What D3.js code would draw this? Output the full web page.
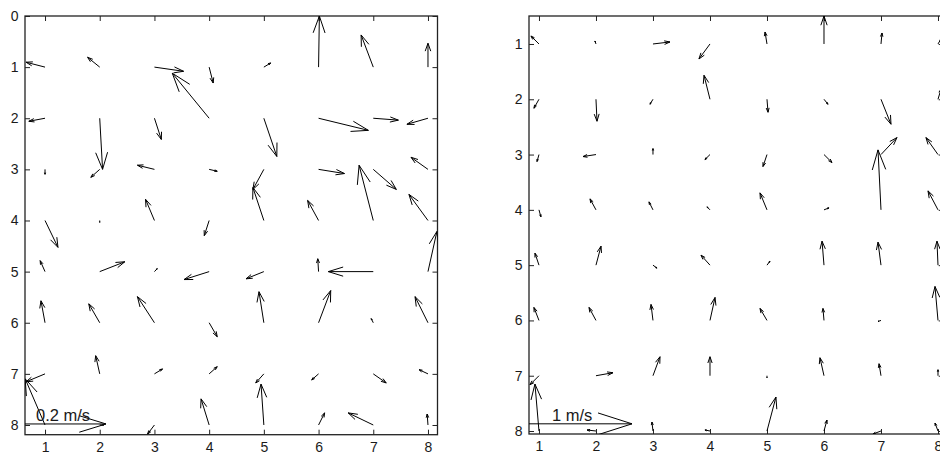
<!DOCTYPE html>
<html>
<head>
<meta charset="utf-8">
<script src="https://cdn.jsdelivr.net/npm/d3@7"></script>
<style>
  html, body { margin: 0; padding: 0; background: #fff; }
  svg { display: block; }
  text { font-family: "Liberation Sans", Arial, sans-serif; fill: #1a1a1a; }
</style>
</head>
<body>
<svg id="chart" width="940" height="456"></svg>
<script>
// Grid of measurement points (columns x = 1..8, rows y = 1..8)
const gridX = [1, 2, 3, 4, 5, 6, 7, 8];
const gridY = [1, 2, 3, 4, 5, 6, 7, 8];

// Left field: eastward (u) and northward (v) velocity, m/s, one row per y
const leftU = [
  [-0.047, -0.030,  0.072,  0.010,  0.017,  0.002, -0.030,  0.000],
  [-0.040,  0.007,  0.017, -0.091,  0.032,  0.123,  0.062, -0.052],
  [ 0.000, -0.022, -0.042,  0.020, -0.027,  0.064,  0.057, -0.042],
  [ 0.032,  0.000, -0.022, -0.012, -0.027, -0.027, -0.035, -0.047],
  [-0.012,  0.062,  0.007, -0.062, -0.044, -0.002, -0.111,  0.022],
  [-0.010, -0.027, -0.042,  0.020, -0.012,  0.030, -0.005, -0.032],
  [-0.047, -0.010,  0.020,  0.020, -0.020, -0.017,  0.032, -0.022],
  [-0.049,  0.010, -0.017, -0.020, -0.007,  0.015, -0.062, -0.002]
];
const leftV = [
  [ 0.013,  0.026, -0.011, -0.042,  0.011,  0.135,  0.085,  0.063],
  [-0.008, -0.135, -0.056,  0.119, -0.101, -0.032, -0.005, -0.016],
  [-0.013, -0.021,  0.011, -0.005, -0.053, -0.011, -0.053,  0.032],
  [-0.071, -0.005,  0.056, -0.040,  0.087,  0.053,  0.146,  0.069],
  [ 0.029,  0.026,  0.008, -0.021, -0.019,  0.034,  0.000,  0.106],
  [ 0.058,  0.050,  0.069, -0.037,  0.082,  0.085,  0.011,  0.069],
  [-0.021,  0.048,  0.013,  0.019, -0.024, -0.016, -0.024,  0.011],
  [ 0.122,  0.000, -0.024,  0.069,  0.108,  0.032,  0.032,  0.029]
];

// Right field: u and v, m/s
const rightU = [
  [-0.078, -0.010,  0.165, -0.107, -0.019,  0.000,  0.010,  0.029],
  [-0.049,  0.010, -0.029, -0.058,  0.010,  0.039,  0.097,  0.029],
  [-0.019, -0.126,  0.000, -0.049, -0.039,  0.078,  0.155, -0.117],
  [ 0.019, -0.058, -0.039, -0.029, -0.068,  0.049, -0.029, -0.097],
  [-0.039,  0.049,  0.039, -0.087,  0.029, -0.019, -0.029, -0.010],
  [-0.049, -0.068, -0.019,  0.049, -0.068, -0.010, -0.029, -0.029],
  [-0.087,  0.165,  0.068,  0.000,  0.000, -0.039, -0.019,  0.000],
  [-0.039, -0.087, -0.010, -0.049,  0.087,  0.029, -0.078, -0.029]
];
const rightV = [
  [ 0.08,  0.03,  0.02, -0.15,  0.12,  0.28,  0.11,  0.05],
  [-0.09, -0.22, -0.05,  0.24, -0.13, -0.05, -0.25,  0.10],
  [-0.07, -0.02,  0.06, -0.05, -0.12, -0.08,  0.17,  0.17],
  [-0.07,  0.11,  0.08,  0.03,  0.17,  0.02,  0.60,  0.19],
  [ 0.12,  0.19, -0.03,  0.10,  0.04,  0.24,  0.23,  0.24],
  [ 0.13,  0.13,  0.16,  0.23,  0.12,  0.12, -0.01,  0.34],
  [-0.09,  0.03,  0.19,  0.19, -0.02,  0.18,  0.12,  0.06],
  [ 0.47,  0.01,  0.09,  0.01,  0.34,  0.11, -0.03,  0.08]
];

// Tick values
const leftXTicks = [1, 2, 3, 4, 5, 6, 7, 8];
const leftYTicks = [0, 1, 2, 3, 4, 5, 6, 7, 8];
const rightXTicks = [1, 2, 3, 4, 5, 6, 7, 8];
const rightYTicks = [1, 2, 3, 4, 5, 6, 7, 8];

// Reference (scale) arrows
const leftRefSpeed = 0.2, leftRefLabel = "0.2 m/s";
const rightRefSpeed = 1, rightRefLabel = "1 m/s";

const svg = d3.select("#chart");

const panels = [
  {
    id: "left", u: leftU, v: leftV,
    xDomain: [0.634, 8.174], xRange: [25, 437.5],
    yDomain: [0, 8.19], yRange: [16, 434.7],
    xTicks: leftXTicks, yTicks: leftYTicks,
    k: 7.403,                       // data units per m/s
    refSpeed: leftRefSpeed, refLabel: leftRefLabel,
    refY: 7.98, labelDx: 11
  },
  {
    id: "right", u: rightU, v: rightV,
    xDomain: [0.825, 8.1], xRange: [529, 943.7],
    yDomain: [0.494, 8.054], yRange: [16, 434],
    xTicks: rightXTicks, yTicks: rightYTicks,
    k: 1.807,
    refSpeed: rightRefSpeed, refLabel: rightRefLabel,
    refY: 7.87, labelDx: 23
  }
];

// Quiver arrow geometry (shaft + two barbs), computed in data units
const alpha = 0.33, beta = 0.33;
function arrowPath(x0, y0, du, dv, sx, sy) {
  const xe = x0 + du, ye = y0 + dv;
  const h1x = xe - alpha * (du + beta * dv), h1y = ye - alpha * (dv - beta * du);
  const h2x = xe - alpha * (du - beta * dv), h2y = ye - alpha * (dv + beta * du);
  const p = d3.path();
  p.moveTo(sx(x0), sy(y0));
  p.lineTo(sx(xe), sy(ye));
  p.moveTo(sx(h1x), sy(h1y));
  p.lineTo(sx(xe), sy(ye));
  p.lineTo(sx(h2x), sy(h2y));
  return p.toString();
}

panels.forEach(P => {
  const sx = d3.scaleLinear().domain(P.xDomain).range(P.xRange);
  const sy = d3.scaleLinear().domain(P.yDomain).range(P.yRange);
  const [x0, x1] = P.xRange, [y0, y1] = P.yRange;
  const g = svg.append("g");

  g.append("clipPath").attr("id", "clip-" + P.id)
    .append("rect").attr("x", x0).attr("y", y0)
    .attr("width", x1 - x0).attr("height", y1 - y0);

  // Axes with inward ticks on all four sides
  const tick = 5;
  g.append("g").attr("transform", `translate(0,${y1})`)
    .call(d3.axisBottom(sx).tickValues(P.xTicks).tickFormat(d3.format("d"))
      .tickSizeInner(-tick).tickSizeOuter(0).tickPadding(7));
  g.append("g").attr("transform", `translate(0,${y0})`)
    .call(d3.axisTop(sx).tickValues(P.xTicks).tickFormat("")
      .tickSizeInner(-tick).tickSizeOuter(0));
  g.append("g").attr("transform", `translate(${x0},0)`)
    .call(d3.axisLeft(sy).tickValues(P.yTicks).tickFormat(d3.format("d"))
      .tickSizeInner(-tick).tickSizeOuter(0).tickPadding(6.5));
  g.append("g").attr("transform", `translate(${x1},0)`)
    .call(d3.axisRight(sy).tickValues(P.yTicks).tickFormat("")
      .tickSizeInner(-tick).tickSizeOuter(0));

  g.selectAll(".domain").remove();
  g.selectAll(".tick line").attr("stroke", "#222").attr("stroke-width", 1);
  g.selectAll(".tick text")
    .style("font-family", '"Liberation Sans", Arial, sans-serif')
    .style("font-size", "14px").attr("fill", "#1a1a1a");

  // Axes box
  g.append("rect").attr("x", x0).attr("y", y0)
    .attr("width", x1 - x0).attr("height", y1 - y0)
    .attr("fill", "none").attr("stroke", "#222").attr("stroke-width", 1.3);

  // Velocity arrows
  const pts = [];
  gridY.forEach((yy, i) => gridX.forEach((xx, j) => {
    pts.push({ x: xx, y: yy, u: P.u[i][j], v: P.v[i][j] });
  }));
  const arrows = g.append("g").attr("clip-path", `url(#clip-${P.id})`);
  arrows.selectAll("path.vec").data(pts).join("path")
    .attr("class", "vec")
    .attr("d", d => arrowPath(d.x, d.y, P.k * d.u, -P.k * d.v, sx, sy))
    .attr("fill", "none").attr("stroke", "#000").attr("stroke-width", 1)
    .attr("stroke-linejoin", "miter");

  // Reference arrow and its label
  arrows.append("path")
    .attr("d", arrowPath(P.xDomain[0], P.refY, P.k * P.refSpeed, 0, sx, sy))
    .attr("fill", "none").attr("stroke", "#000").attr("stroke-width", 1);
  g.append("text")
    .attr("x", x0 + P.labelDx).attr("y", sy(P.refY) - 3)
    .style("font-size", "16.5px")
    .text(P.refLabel);
});
</script>
</body>
</html>
